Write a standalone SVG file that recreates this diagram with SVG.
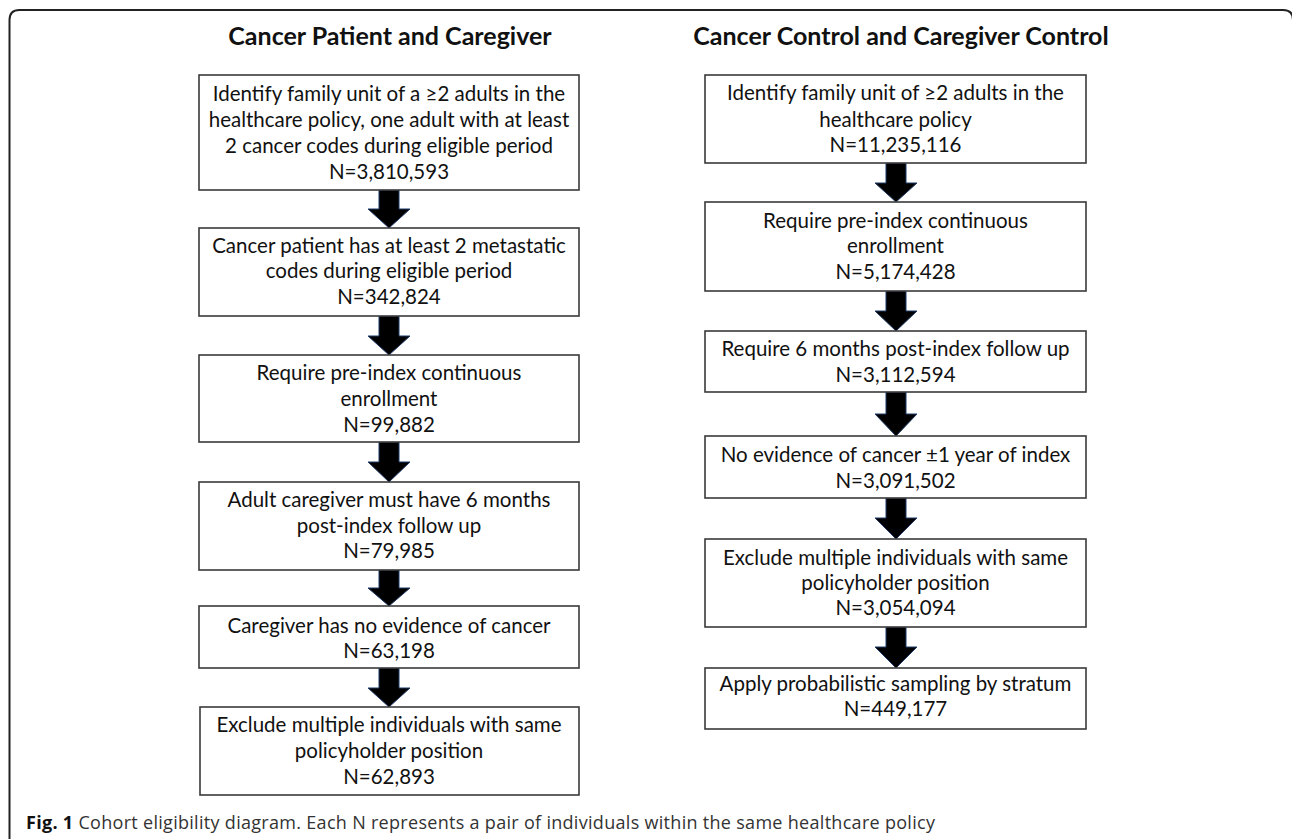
<svg xmlns="http://www.w3.org/2000/svg" width="1292" height="839" viewBox="0 0 1292 839">
<style>
.box{fill:#fff;stroke:#3a3a3a;stroke-width:1.6}
.t{font-family:Lato,"Liberation Sans",sans-serif;font-size:20.5px;fill:#111;text-anchor:middle}
.h{font-family:Lato,"Liberation Sans",sans-serif;font-size:25px;font-weight:bold;fill:#111;text-anchor:middle}
.arr{fill:#000;stroke:#1f3a68;stroke-width:1}
.cap{font-family:"Open Sans","Liberation Sans",sans-serif;font-size:18px;fill:#333}
</style>
<rect width="1292" height="839" fill="#fff"/>
<path d="M9.5,839 V20 Q9.5,10 19.5,10 H1283 Q1293,10 1293,20 V839" fill="none" stroke="#222" stroke-width="2"/>
<text class="h" x="390" y="45">Cancer Patient and Caregiver</text>
<text class="h" x="901" y="45">Cancer Control and Caregiver Control</text>

<g id="connectors">
<polygon class="arr" points="379,190 399,190 399,209 410,209 389,228 368,209 379,209"/>
<polygon class="arr" points="379,316 399,316 399,336 410,336 389,355 368,336 379,336"/>
<polygon class="arr" points="379,442 399,442 399,462 410,462 389,482 368,462 379,462"/>
<polygon class="arr" points="379,570 399,570 399,588 410,588 389,606 368,588 379,588"/>
<polygon class="arr" points="379,668 399,668 399,688 410,688 389,707 368,688 379,688"/>
<polygon class="arr" points="886,163 906,163 906,183 917,183 896,202 875,183 886,183"/>
<polygon class="arr" points="886,291 906,291 906,311 917,311 896,331 875,311 886,311"/>
<polygon class="arr" points="886,392 906,392 906,414 917,414 896,436 875,414 886,414"/>
<polygon class="arr" points="886,498 906,498 906,518 917,518 896,539 875,518 886,518"/>
<polygon class="arr" points="886,627 906,627 906,647 917,647 896,668 875,647 886,647"/>
</g>

<g id="b1"><rect class="box" x="199" y="75" width="380" height="115"/>
<text class="t" x="389" y="101">Identify family unit of a ≥2 adults in the</text>
<text class="t" x="389" y="127">healthcare policy, one adult with at least</text>
<text class="t" x="389" y="153">2 cancer codes during eligible period</text>
<text class="t" x="389" y="179">N=3,810,593</text></g>
<g id="b2"><rect class="box" x="199" y="228" width="380" height="88"/>
<text class="t" x="389" y="253">Cancer patient has at least 2 metastatic</text>
<text class="t" x="389" y="278">codes during eligible period</text>
<text class="t" x="389" y="304">N=342,824</text></g>
<g id="b3"><rect class="box" x="199" y="355" width="380" height="87"/>
<text class="t" x="389" y="380">Require pre-index continuous</text>
<text class="t" x="389" y="406">enrollment</text>
<text class="t" x="389" y="432">N=99,882</text></g>
<g id="b4"><rect class="box" x="199" y="482" width="380" height="88"/>
<text class="t" x="389" y="507">Adult caregiver must have 6 months</text>
<text class="t" x="389" y="533">post-index follow up</text>
<text class="t" x="389" y="558">N=79,985</text></g>
<g id="b5"><rect class="box" x="199" y="606" width="380" height="62"/>
<text class="t" x="389" y="633">Caregiver has no evidence of cancer</text>
<text class="t" x="389" y="658">N=63,198</text></g>
<g id="b6"><rect class="box" x="200" y="707" width="379" height="88"/>
<text class="t" x="389" y="732">Exclude multiple individuals with same</text>
<text class="t" x="389" y="758">policyholder position</text>
<text class="t" x="389" y="784">N=62,893</text></g>

<g id="r1"><rect class="box" x="705" y="75" width="381" height="88"/>
<text class="t" x="895.5" y="100">Identify family unit of ≥2 adults in the</text>
<text class="t" x="895.5" y="127">healthcare policy</text>
<text class="t" x="895.5" y="152">N=11,235,116</text></g>
<g id="r2"><rect class="box" x="705" y="202" width="381" height="89"/>
<text class="t" x="895.5" y="228">Require pre-index continuous</text>
<text class="t" x="895.5" y="253">enrollment</text>
<text class="t" x="895.5" y="279">N=5,174,428</text></g>
<g id="r3"><rect class="box" x="705" y="331" width="381" height="61"/>
<text class="t" x="895.5" y="356">Require 6 months post-index follow up</text>
<text class="t" x="895.5" y="382">N=3,112,594</text></g>
<g id="r4"><rect class="box" x="705" y="436" width="381" height="62"/>
<text class="t" x="895.5" y="462">No evidence of cancer ±1 year of index</text>
<text class="t" x="895.5" y="488">N=3,091,502</text></g>
<g id="r5"><rect class="box" x="705" y="539" width="381" height="88"/>
<text class="t" x="895.5" y="565">Exclude multiple individuals with same</text>
<text class="t" x="895.5" y="590">policyholder position</text>
<text class="t" x="895.5" y="615">N=3,054,094</text></g>
<g id="r6"><rect class="box" x="705" y="668" width="381" height="61"/>
<text class="t" x="895.5" y="691">Apply probabilistic sampling by stratum</text>
<text class="t" x="895.5" y="716">N=449,177</text></g>

<text class="cap" x="26" y="829" textLength="909" lengthAdjust="spacing"><tspan font-weight="bold" fill="#111">Fig. 1</tspan> Cohort eligibility diagram. Each N represents a pair of individuals within the same healthcare policy</text>
</svg>
